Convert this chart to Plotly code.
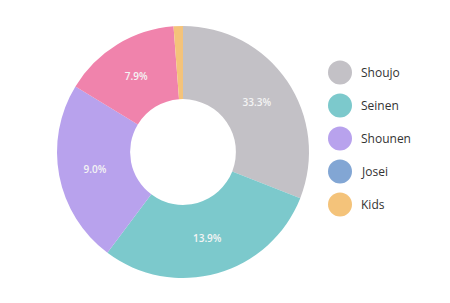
import plotly.graph_objects as go

categories = ["Shoujo", "Seinen", "Shounen", "Josei", "Kids"]
values = [31.0, 29.3, 23.5, 15.1, 1.2]
slice_labels = ["33.3%", "13.9%", "9.0%", "7.9%", ""]
slice_colors = ["#C3C1C6", "#7CC9CC", "#B8A2ED", "#F083AC", "#F4C37A"]
legend_colors = ["#C3C1C6", "#7CC9CC", "#B8A2ED", "#82A6D4", "#F4C37A"]

W, H = 450, 303
cx, cy, R = 183, 152, 126

fig = go.Figure(go.Pie(
    labels=categories,
    values=values,
    text=slice_labels,
    textinfo="text",
    textposition="inside",
    insidetextorientation="horizontal",
    textfont=dict(family="Open Sans", size=10, color="#F4F4F4", weight=600),
    marker=dict(colors=slice_colors, line=dict(color="white", width=0)),
    hole=0.42,
    sort=False,
    direction="clockwise",
    rotation=0,
    showlegend=False,
    hoverinfo="none",
    domain=dict(x=[(cx - R) / W, (cx + R) / W], y=[(H - cy - R) / H, (H - cy + R) / H]),
))

shapes = []
annotations = []
for i, (name, col) in enumerate(zip(categories, legend_colors)):
    yc = 72.5 + 33 * i
    shapes.append(dict(type="circle", xref="paper", yref="paper",
                       x0=(340 - 12) / W, x1=(340 + 12) / W,
                       y0=(H - yc - 12) / H, y1=(H - yc + 12) / H,
                       fillcolor=col, line=dict(width=0)))
    annotations.append(dict(text=name, xref="paper", yref="paper",
                            x=359 / W, y=(H - yc) / H, xanchor="left", yanchor="middle",
                            showarrow=False,
                            font=dict(family="Open Sans", size=12, color="#333333")))

fig.update_layout(
    width=W, height=H,
    margin=dict(l=0, r=0, t=0, b=0),
    paper_bgcolor="white", plot_bgcolor="white",
    shapes=shapes, annotations=annotations,
)

fig.write_html("out.html")
